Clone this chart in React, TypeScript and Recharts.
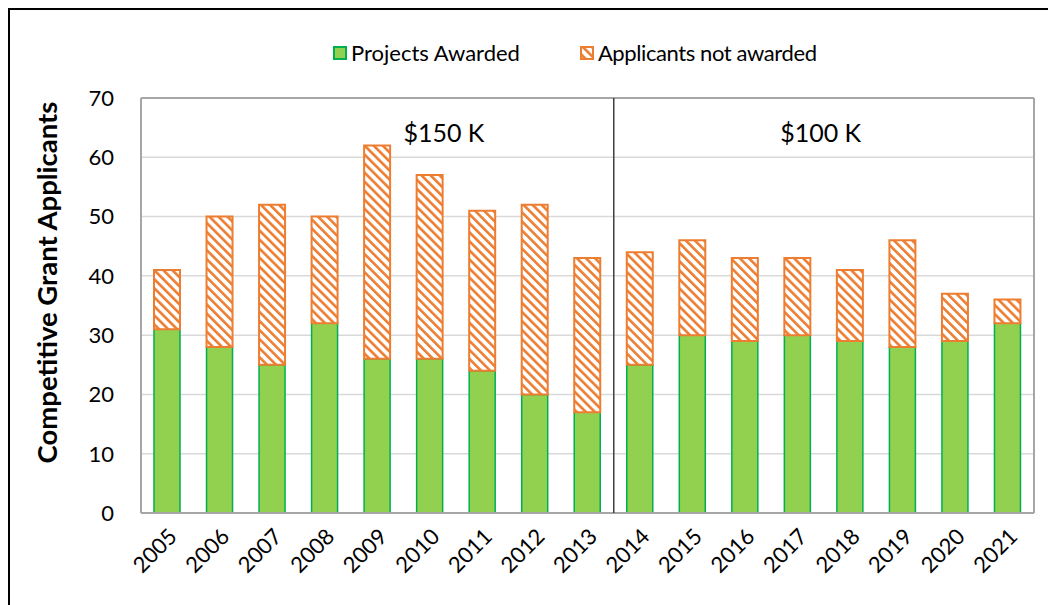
import React from 'react';
import {
  ComposedChart, Bar, XAxis, YAxis, CartesianGrid, Legend,
  ReferenceLine, ReferenceDot, Label,
} from 'recharts';

const years = ['2005','2006','2007','2008','2009','2010','2011','2012','2013','2014','2015','2016','2017','2018','2019','2020','2021'];
const awarded = [31, 28, 25, 32, 26, 26, 24, 20, 17, 25, 30, 29, 30, 29, 28, 29, 32];
const totalApplicants = [41, 50, 52, 50, 62, 57, 51, 52, 43, 44, 46, 43, 43, 41, 46, 37, 36];
const yTicks = [0, 10, 20, 30, 40, 50, 60, 70];
const periodLabels = ['$150 K', '$100 K'];
const periodLabelYear = ['2010', '2017'];
const periodSplitYear = '2014';

const data = years.map((y, i) => ({
  year: y,
  awarded: awarded[i],
  notAwarded: totalApplicants[i] - awarded[i],
}));

const FONT = 'Lato, "Open Sans", sans-serif';
const GREEN = '#92D050';
const GREEN_S = '#00B050';
const ORANGE = '#ED7D31';
const FRAME = '#A6A6A6';

const HatchDef = ({ id }: { id: string }) => (
  <pattern id={id} patternUnits="userSpaceOnUse" width="6.4" height="6.4" patternTransform="rotate(-45)">
    <rect x="0" y="0" width="6.4" height="6.4" fill="#fff" />
    <rect x="0" y="0" width="2.6" height="6.4" fill={ORANGE} />
  </pattern>
);

const LegendContent = () => (
  <div style={{ display: 'flex', alignItems: 'center', fontFamily: FONT, fontSize: 22, lineHeight: '24px', color: '#000' }}>
    <svg width={14} height={14} style={{ marginRight: 4 }}>
      <rect x={1} y={1} width={12} height={12} fill={GREEN} stroke={GREEN_S} strokeWidth={2} />
    </svg>
    <span>Projects Awarded</span>
    <svg width={14} height={14} style={{ marginLeft: 60, marginRight: 4 }}>
      <defs><HatchDef id="hatchLegend" /></defs>
      <rect x={1} y={1} width={12} height={12} fill="url(#hatchLegend)" stroke={ORANGE} strokeWidth={2} />
    </svg>
    <span style={{ letterSpacing: -0.4 }}>Applicants not awarded</span>
  </div>
);

const periodLabel = (text: string, dx: number) => (props: any) => {
  const vb = props.viewBox || {};
  const cx = (vb.x ?? 0) + (vb.width ?? 0) / 2 + dx;
  const cy = (vb.y ?? 0) + (vb.height ?? 0) / 2;
  return (
    <text x={cx} y={cy} textAnchor="middle" dominantBaseline="central" fontFamily={FONT} fontSize={25} fill="#000">
      {text}
    </text>
  );
};
const periodDx = [14, 23];

export default function App() {
  return (
    <div style={{ width: 1056, height: 597, overflow: 'hidden', borderLeft: '2px solid #000', borderTop: '2px solid #000', background: '#fff' }}>
      <ComposedChart
        width={1038}
        height={595}
        data={data}
        margin={{ top: 64, right: 14, bottom: 62, left: 0 }}
        barSize={26}
      >
        <defs>
          <HatchDef id="hatchBar" />
        </defs>
        <CartesianGrid vertical={false} stroke="#D9D9D9" strokeWidth={1.5} />
        <XAxis
          dataKey="year"
          height={30}
          tickLine={false}
          axisLine={false}
          interval={0}
          angle={-45}
          textAnchor="end"
          tickMargin={8}
          tick={{ fontSize: 22, fill: '#000', fontFamily: FONT }}
        />
        <YAxis
          domain={[0, 70]}
          ticks={yTicks}
          width={131}
          tickLine={false}
          axisLine={false}
          tickSize={0}
          tickMargin={27}
          interval={0}
          tick={{ fontSize: 22, fill: '#000', fontFamily: FONT }}
        >
          <Label
            content={({ viewBox }: any) => {
              const cx = viewBox.x + 36;
              const cy = viewBox.y + viewBox.height / 2 - 23;
              return (
                <text x={cx} y={cy} transform={`rotate(-90, ${cx}, ${cy})`} textAnchor="middle" dominantBaseline="central"
                  fontFamily={FONT} fontWeight="bold" fontSize={27.5} fill="#000">
                  Competitive Grant Applicants
                </text>
              );
            }}
          />
        </YAxis>
        <Legend
          verticalAlign="top"
          content={<LegendContent />}
          wrapperStyle={{ top: 31, left: 323, width: 'auto' }}
        />
        <Bar dataKey="awarded" stackId="a" name="Projects Awarded" fill={GREEN} stroke={GREEN_S} strokeWidth={1.5} isAnimationActive={false} />
        <Bar dataKey="notAwarded" stackId="a" name="Applicants not awarded" fill="url(#hatchBar)" stroke={ORANGE} strokeWidth={2} isAnimationActive={false} />
        <ReferenceLine y={70} stroke={FRAME} strokeWidth={2} />
        <ReferenceLine y={0} stroke={FRAME} strokeWidth={2} />
        <ReferenceLine x={years[0]} position="start" stroke={FRAME} strokeWidth={2} />
        <ReferenceLine x={years[years.length - 1]} position="end" stroke={FRAME} strokeWidth={2} />
        <ReferenceLine x={periodSplitYear} position="start" stroke="#404040" strokeWidth={1.5} />
        {periodLabels.map((t, i) => (
          <ReferenceDot key={t} x={periodLabelYear[i]} y={64.3} r={0} fill="none" stroke="none"
            label={periodLabel(t, periodDx[i])} />
        ))}
      </ComposedChart>
    </div>
  );
}
